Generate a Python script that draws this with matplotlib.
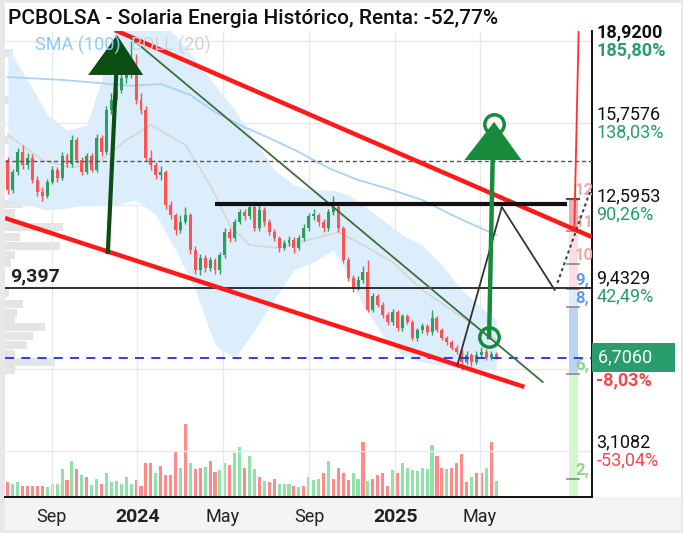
import matplotlib
matplotlib.use('Agg')
import matplotlib.pyplot as plt
import matplotlib.dates as mdates
from matplotlib.patches import Rectangle, Polygon
import numpy as np
import pandas as pd

plt.rcParams['font.family'] = ['Roboto', 'DejaVu Sans']

# ---- weekly candles, PCBOLSA (Solaria) ----
start = '2023-07-01'
opens = [14.33, 13.17, 13.87, 14.64, 14.14, 14.41, 13.56, 13.10, 12.94, 13.48,
         13.95, 13.64, 14.49, 14.18, 15.10, 14.33, 13.87, 14.49, 13.95, 15.18,
         14.64, 16.26, 16.64, 17.03, 17.49, 17.65, 17.88, 16.64, 16.26, 14.41,
         14.14, 13.75, 13.87, 12.60, 12.21, 11.63, 11.94, 12.21, 10.86, 10.09,
         10.55, 10.17, 10.47, 10.09, 10.67, 11.55, 11.32, 11.94, 12.33, 12.17,
         12.52, 11.71, 12.40, 11.94, 11.55, 11.32, 10.94, 11.13, 11.25, 10.94,
         11.32, 11.71, 12.17, 12.21, 11.94, 11.71, 12.33, 12.52, 11.71, 10.47,
         9.78, 9.39, 9.70, 10.01, 8.55, 9.09, 8.74, 8.35, 8.08, 8.47,
         7.85, 8.31, 8.08, 7.47, 7.77, 7.93, 7.70, 8.24, 7.77, 7.47,
         7.31, 7.08, 6.93, 6.54, 6.81, 6.54, 6.81, 6.93, 6.69, 6.85]
closes = [13.17, 13.87, 14.64, 14.14, 14.41, 13.56, 13.10, 12.94, 13.48, 13.95,
          13.64, 14.49, 14.18, 15.10, 14.33, 13.87, 14.49, 13.95, 15.18, 14.64,
          16.26, 16.64, 17.03, 17.49, 17.65, 17.88, 16.64, 16.26, 14.41, 14.14,
          13.75, 13.87, 12.60, 12.21, 11.63, 11.94, 12.21, 10.86, 10.09, 10.55,
          10.17, 10.47, 10.09, 10.67, 11.55, 11.32, 11.94, 12.33, 12.17, 12.52,
          11.71, 12.40, 11.94, 11.55, 11.32, 10.94, 11.13, 11.25, 10.94, 11.32,
          11.71, 12.17, 12.21, 11.94, 11.71, 12.33, 12.52, 11.71, 10.47, 9.78,
          9.39, 9.70, 10.01, 8.55, 9.09, 8.74, 8.35, 8.08, 8.47, 7.85,
          8.31, 8.08, 7.47, 7.77, 7.93, 7.70, 8.24, 7.77, 7.47, 7.31,
          7.08, 6.93, 6.54, 6.81, 6.54, 6.81, 6.93, 6.69, 6.85, 6.706]
highs = [14.45, 14.00, 14.80, 14.90, 14.60, 14.55, 13.70, 13.30, 13.60, 14.10,
         14.05, 14.65, 14.60, 15.30, 15.20, 14.45, 14.60, 14.60, 15.35, 15.30,
         16.40, 16.90, 17.20, 17.70, 18.10, 18.92, 18.40, 16.90, 16.40, 14.70,
         14.25, 14.10, 13.95, 12.75, 12.30, 12.20, 12.50, 12.30, 11.00, 10.70,
         10.65, 10.60, 10.55, 10.80, 11.70, 11.70, 12.05, 12.45, 12.45, 12.70,
         12.60, 12.60, 12.50, 12.05, 11.65, 11.40, 11.25, 11.40, 11.35, 11.45,
         11.85, 12.30, 12.45, 12.30, 12.05, 12.45, 12.95, 12.60, 11.80, 10.60,
         9.90, 9.85, 10.25, 10.47, 9.20, 9.15, 8.85, 8.45, 8.60, 8.55,
         8.40, 8.40, 8.15, 7.85, 8.05, 8.00, 8.55, 8.30, 7.85, 7.55,
         7.40, 7.20, 7.05, 6.95, 6.90, 6.95, 7.10, 7.05, 6.95, 6.92]
lows = [13.00, 13.05, 13.75, 14.00, 14.00, 13.45, 12.95, 12.75, 12.85, 13.40,
        13.50, 13.55, 14.05, 14.05, 14.20, 13.75, 13.80, 13.85, 13.85, 14.50,
        14.55, 16.10, 16.50, 16.90, 17.30, 17.50, 16.50, 16.10, 14.30, 13.95,
        13.60, 13.55, 12.45, 12.05, 11.45, 11.50, 11.85, 10.70, 9.95, 9.90,
        10.00, 10.05, 9.95, 9.95, 10.55, 11.15, 11.20, 11.85, 12.00, 12.05,
        11.60, 11.60, 11.80, 11.45, 11.20, 10.80, 10.85, 11.00, 10.75, 10.85,
        11.20, 11.60, 12.00, 11.80, 11.55, 11.60, 12.20, 11.55, 10.35, 9.65,
        9.25, 9.30, 9.60, 8.45, 8.45, 8.65, 8.25, 7.95, 7.95, 7.75,
        7.75, 8.00, 7.40, 7.35, 7.65, 7.60, 7.60, 7.70, 7.40, 7.20,
        7.00, 6.85, 6.23, 6.45, 6.40, 6.45, 6.70, 6.60, 6.62, 6.65]
volumes = [153, 130, 153, 110, 110, 110, 110, 110, 97, 130,
           130, 277, 170, 363, 277, 217, 203, 117, 183, 130,
           237, 150, 163, 130, 203, 130, 170, 110, 343, 343,
           237, 310, 220, 223, 447, 290, 730, 343, 277, 287,
           303, 363, 253, 270, 343, 320, 443, 503, 290, 410,
           277, 203, 163, 153, 183, 130, 130, 130, 110, 97,
           110, 203, 170, 183, 237, 363, 183, 290, 243, 170,
           237, 183, 550, 163, 177, 217, 237, 110, 270, 237,
           337, 290, 270, 263, 290, 277, 517, 410, 290, 277,
           290, 343, 430, 150, 203, 237, 237, 290, 550, 163]
# colour of each volume bar (1 = green, 0 = red)
vol_up = [0, 1, 1, 0, 0, 0, 0, 0, 1, 1, 1, 1, 0, 1, 0, 1, 0, 1, 1, 0,
          1, 1, 1, 1, 1, 1, 0, 0, 0, 0, 1, 0, 0, 0, 0, 1, 0, 1, 0, 0,
          1, 0, 0, 1, 1, 0, 1, 1, 0, 1, 1, 0, 1, 0, 0, 1, 1, 1, 0, 1,
          0, 1, 1, 1, 0, 1, 0, 0, 0, 0, 1, 1, 0, 1, 0, 0, 0, 0, 1, 0,
          1, 1, 1, 1, 1, 1, 1, 0, 0, 1, 0, 0, 0, 0, 1, 0, 0, 1, 0, 1]

# Bollinger (20) and SMA (100), sampled at week indices
band_idx = [0, 4, 8, 12, 16, 19, 22, 26, 30, 34, 38, 42, 46, 50, 54, 58, 62, 66, 69, 72, 76, 80, 84, 88, 92, 99]
band_upper = [18.65, 17.42, 16.07, 15.49, 15.68, 17.42, 19.73, 19.73, 19.73, 19.15, 18.19, 17.22, 16.26,
              15.10, 13.95, 13.37, 13.17, 13.17, 12.98, 12.60, 12.02, 11.44, 11.05, 10.28, 9.32, 8.16]
band_lower = [12.79, 12.60, 12.40, 12.48, 12.60, 12.60, 12.60, 12.79, 12.21, 10.86, 9.32, 7.20, 6.69,
              7.77, 8.93, 10.09, 10.40, 10.86, 9.90, 8.74, 7.58, 6.81, 6.54, 6.42, 6.31, 6.23]
mid_idx = [0, 7, 13, 19, 24, 29, 36, 41, 45, 49, 55, 61, 67, 72, 78, 84, 92, 99]
mid_vals = [15.30, 14.33, 14.02, 14.33, 15.10, 15.68, 14.91, 13.37, 11.82, 11.05, 10.94, 11.25,
            11.55, 11.05, 10.40, 9.32, 8.28, 7.39]
sma_idx = [0, 11, 25, 31, 37, 42, 47, 53, 59, 65, 71, 78, 84, 90, 99]
sma_vals = [17.53, 17.42, 17.19, 17.26, 16.84, 16.18, 15.68, 15.18, 14.64, 14.02, 13.56, 13.17,
            12.79, 12.21, 11.44]

# volume profile (left)
prof_prices = [18.46, 16.64, 15.10, 14.14, 12.63, 12.29, 11.75, 11.36, 11.01, 10.67, 10.36,
               9.20, 8.78, 8.43, 8.16, 7.89, 7.54, 7.20, 6.85, 6.54, 6.23]
prof_widths = [8, 6, 5, 6, 18, 10, 58, 15, 55, 10, 6, 4, 18, 12, 10, 40, 28, 22, 10, 50, 10]

# right axis ticks (the 6,2706 price text sits under the last-price box)
tick_vals = [18.92, 15.7576, 12.5953, 9.4329, 6.2706, 3.1082]
tick_price = ['18,9200', '15,7576', '12,5953', '9,4329', '', '3,1082']
tick_pct = ['185,80%', '138,03%', '90,26%', '42,49%', '-8,03%', '-53,04%']
last_price = 6.706

# fibonacci column (labels cut by the price axis)
fib_levels = [12.83, 11.59, 10.32, 9.36, 8.66, 6.08, 2.02]
fib_labels = ['12', '11', '10', '9,', '8,', '6,', '2,']
fib_text_col = ['#f3a9a9', '#f3a9a9', '#f3a9a9', '#5a9be8', '#5a9be8', '#86d886', '#86d886']

# drawings (date, price)
chan_up = [('2023-11-30', 19.34), ('2025-10-07', 11.36)]
chan_low = [('2023-06-27', 12.09), ('2025-07-03', 5.58)]
trend_green = [('2023-12-21', 19.07), ('2025-07-29', 5.77)]
resist = [('2024-04-20', 12.63), ('2025-09-01', 12.63)]
zigzag = [('2025-03-30', 6.43), ('2025-06-01', 12.52), ('2025-08-15', 9.32)]
zig_dotted = [('2025-08-19', 9.59), ('2025-10-04', 13.10)]
red_vert = [('2025-09-18', 19.27), ('2025-09-12', 11.75)]
support_lvl = 9.397
dotted_lvl = 14.30

W, H = 683, 533


def d(s):
    return mdates.date2num(pd.Timestamp(s))


def pts(seg):
    return [d(a) for a, b in seg], [b for a, b in seg]


fig = plt.figure(figsize=(W / 100, H / 100), dpi=100, facecolor='#e8e8e8')
fig.add_artist(Rectangle((5 / W, 1 - 497 / H), 676 / W, 494 / H, transform=fig.transFigure,
                         fc='white', ec='none', zorder=0))
fig.add_artist(Rectangle((5 / W, 1 - 530 / H), 676 / W, 33 / H, transform=fig.transFigure,
                         fc='#f4f4f4', ec='none', zorder=0))

ax = fig.add_axes([5 / W, 1 - 497 / H, 587 / W, 466 / H])
axv = ax.twinx()
axp = ax.twiny()
ax.set_zorder(3)
ax.patch.set_visible(False)
axv.set_zorder(1)
axp.set_zorder(2)

dates = pd.date_range(start, periods=len(closes), freq='7D')
x = mdates.date2num(dates)
o = np.array(opens)
c = np.array(closes)
col = np.where(c >= o, '#2e9e5e', '#ff5252')
vcol = np.where(np.array(vol_up) == 1, '#8fe3a9', '#ff8a8a')

ax.set_xlim(d('2023-06-27'), d('2025-10-07'))
ax.set_ylim(1.334, 19.305)

# bollinger + sma
bx = x[band_idx]
ax.fill_between(bx, band_lower, band_upper, color='#dcedfb', lw=0, zorder=1)
ax.plot(x[mid_idx], mid_vals, color='#d6d2cc', lw=1.0, zorder=1.5)
ax.plot(x[sma_idx], sma_vals, color='#a9d3f5', lw=1.3, zorder=1.5)

# candles
ax.vlines(x, lows, highs, colors=col, lw=1.0, zorder=3)
body_h = np.maximum(np.abs(c - o), 0.06)
ax.bar(x, body_h, bottom=np.minimum(o, c), width=4.2, color=col, lw=0, zorder=3)

# volume
axv.bar(x, volumes, width=4.4, color=vcol, lw=0)
axv.set_ylim(0, 4660)
axv.set_yticks([])

# volume profile
axp.barh(prof_prices, prof_widths, height=0.3, left=0, color='#e4e4e4', lw=0)
axp.set_xlim(0, 587)
axp.set_xticks([])
for a in (axv, axp):
    for s in a.spines.values():
        s.set_visible(False)

# fibonacci column
fx0, fx1 = d('2025-09-04'), d('2025-09-17')
fib_bounds = [12.83, 11.59, 9.36, 8.66, 6.08, 1.334]
fib_fill = ['#eab0b2', '#fbdfdf', '#e0eafa', '#bad4f6', '#d3f6cf']
for i in range(len(fib_fill)):
    ax.add_patch(Rectangle((fx0, fib_bounds[i + 1]), fx1 - fx0, fib_bounds[i] - fib_bounds[i + 1],
                           fc=fib_fill[i], ec='none', zorder=1))
for lv, lb, tc in zip(fib_levels, fib_labels, fib_text_col):
    ax.plot([d('2025-09-01'), d('2025-09-19')], [lv, lv], color='#555555' if lv > 12 else '#8a8a8a',
            lw=1.6 if lv > 12 else 1.2, zorder=4)
    ax.text(d('2025-09-13'), lv + 0.05, lb, color=tc, fontsize=12, fontweight='bold',
            ha='left', va='bottom', zorder=4, clip_on=True)

# horizontal levels
ax.axhline(dotted_lvl, color='#555555', lw=1.0, ls=(0, (3, 2)), zorder=4)
ax.axhline(support_lvl, color='#222222', lw=1.3, zorder=4)
ax.axhline(last_price, color='#1f2fe6', lw=1.3, ls=(0, (5, 4)), zorder=4)
ax.annotate('9,397', xy=(0.008, support_lvl), xycoords=('axes fraction', 'data'),
            xytext=(0, 2), textcoords='offset points', fontsize=14, fontweight='bold',
            color='#222222', ha='left', va='bottom', zorder=6)

# drawn lines
ax.plot(*pts(chan_up), color='#ff1a1a', lw=3.2, zorder=5, solid_capstyle='butt')
ax.plot(*pts(chan_low), color='#ff1a1a', lw=3.2, zorder=5, solid_capstyle='butt')
ax.plot(*pts(trend_green), color='#3c6e3c', lw=1.3, zorder=5)
ax.plot(*pts(resist), color='#111111', lw=3.0, zorder=5, solid_capstyle='butt')
ax.plot(*pts(zigzag), color='#333333', lw=1.3, zorder=5)
ax.plot(*pts(zig_dotted), color='#444444', lw=1.5, ls=(0, (1.5, 1.5)), zorder=5)
ax.plot(*pts(red_vert), color='#ff3030', lw=1.3, zorder=5)

# target arrows
ax.plot([d('2023-11-20'), d('2023-12-03')], [10.78, 18.3], color='#0b4d12', lw=3.0, zorder=6)
ax.add_patch(Polygon([(d('2023-10-23'), 17.61), (d('2024-01-09'), 17.61), (d('2023-12-03'), 19.15)],
                     closed=True, fc='#0b4d12', ec='none', zorder=6))
ax.plot([d('2025-05-14'), d('2025-05-19')], [7.50, 14.33], color='#178a3c', lw=3.2, zorder=6)
ax.add_patch(Polygon([(d('2025-04-09'), 14.33), (d('2025-06-29'), 14.33), (d('2025-05-21'), 15.80)],
                     closed=True, fc='#178a3c', ec='none', zorder=6))
ax.plot([d('2025-05-21'), d('2025-05-14')], [15.72, 7.50], ls='none', marker='o', ms=14,
        mfc='none', mec='#178a3c', mew=2.5, zorder=7)

# grid, ticks
ax.set_yticks(tick_vals)
ax.tick_params(axis='y', length=0, labelleft=False, labelright=False)
xt = [d('2023-09-01'), d('2024-01-01'), d('2024-05-01'), d('2024-09-01'), d('2025-01-01'), d('2025-05-01')]
ax.set_xticks(xt)
ax.set_xticklabels(['Sep', '2024', 'May', 'Sep', '2025', 'May'])
ax.tick_params(axis='x', length=0, pad=8, labelsize=13, labelcolor='#222222')
for t in ax.get_xticklabels():
    if t.get_text().isdigit():
        t.set_fontweight('bold')
        t.set_fontsize(14)
ax.grid(True, color='#e9e9e9', lw=1.0)
ax.set_axisbelow(True)
for s in ('left', 'top'):
    ax.spines[s].set_visible(False)
for s in ('right', 'bottom'):
    ax.spines[s].set_color('#111111')
    ax.spines[s].set_linewidth(1.4)

# right labels
for v, pl, pc in zip(tick_vals, tick_price, tick_pct):
    first = v == tick_vals[0]
    neg = pc.startswith('-')
    if pl:
        ax.annotate(pl, xy=(1, v), xycoords=('axes fraction', 'data'), xytext=(3, 0),
                    textcoords='offset points', ha='left', va='bottom', fontsize=13,
                    color='#111111', fontweight='bold' if first else 'normal', annotation_clip=False)
    ax.annotate(pc, xy=(1, v), xycoords=('axes fraction', 'data'), xytext=(3, -2 if pl == '' else 0),
                textcoords='offset points', ha='left', va='top', fontsize=13,
                color='#f24a4a' if neg else '#2a9d6e',
                fontweight='bold' if (first or pl == '') else 'normal', annotation_clip=False)
ax.annotate('6,7060    ', xy=(1, last_price), xycoords=('axes fraction', 'data'), xytext=(4, 0),
            textcoords='offset points', ha='left', va='center', fontsize=13, color='white',
            bbox=dict(boxstyle='square,pad=0.3', fc='#2a9d6e', ec='none'), annotation_clip=False, zorder=8)

# legend text and title
ax.text(0.051, 0.968, 'SMA (100)', transform=ax.transAxes, color='#90caf9', fontsize=13,
        va='center', ha='left', zorder=7)
ax.text(0.215, 0.968, 'BOLL (20)', transform=ax.transAxes, color='#d2d2d2', fontsize=13,
        va='center', ha='left', zorder=7)
fig.text(8 / W, 1 - 19 / H, 'PCBOLSA - Solaria Energia Histórico, Renta: -52,77%', fontsize=15,
         fontweight='medium', color='#111111', va='center', ha='left')

fig.savefig('out.png', dpi=100, facecolor=fig.get_facecolor())
